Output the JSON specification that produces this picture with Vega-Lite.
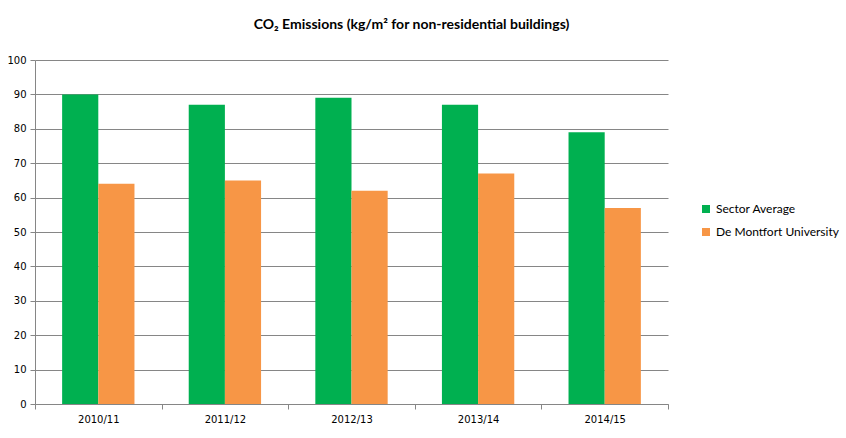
{
  "$schema": "https://vega.github.io/schema/vega-lite/v6.json",
  "width": 633,
  "height": 344,
  "autosize": {"type": "none"},
  "padding": {"left": 35, "top": 60, "right": 178, "bottom": 34},
  "background": "white",
  "title": {
    "text": "CO₂ Emissions (kg/m² for non-residential buildings)",
    "font": "Lato",
    "fontSize": 14,
    "fontWeight": "bold",
    "color": "#000000",
    "anchor": "middle",
    "frame": "group",
    "dx": 60,
    "offset": 23
  },
  "data": {
    "values": [
      {"year": "2010/11", "series": "Sector Average", "value": 90},
      {"year": "2010/11", "series": "De Montfort University", "value": 64},
      {"year": "2011/12", "series": "Sector Average", "value": 87},
      {"year": "2011/12", "series": "De Montfort University", "value": 65},
      {"year": "2012/13", "series": "Sector Average", "value": 89},
      {"year": "2012/13", "series": "De Montfort University", "value": 62},
      {"year": "2013/14", "series": "Sector Average", "value": 87},
      {"year": "2013/14", "series": "De Montfort University", "value": 67},
      {"year": "2014/15", "series": "Sector Average", "value": 79},
      {"year": "2014/15", "series": "De Montfort University", "value": 57}
    ]
  },
  "mark": {"type": "bar"},
  "encoding": {
    "x": {
      "field": "year",
      "type": "nominal",
      "title": null,
      "scale": {"paddingInner": 0, "paddingOuter": 0},
      "axis": {
        "labelAngle": 0,
        "tickBand": "extent",
        "domainColor": "#868686",
        "tickColor": "#868686",
        "tickSize": 5,
        "labelFont": "DejaVu Sans",
        "labelFontSize": 10,
        "labelColor": "#000000",
        "labelPadding": 5,
        "grid": false
      }
    },
    "xOffset": {
      "field": "series",
      "type": "nominal",
      "sort": ["Sector Average", "De Montfort University"],
      "scale": {"paddingInner": 0, "paddingOuter": 0.75}
    },
    "y": {
      "field": "value",
      "type": "quantitative",
      "title": null,
      "scale": {"domain": [0, 100], "nice": false},
      "axis": {
        "values": [0, 10, 20, 30, 40, 50, 60, 70, 80, 90, 100],
        "domainColor": "#868686",
        "tickColor": "#868686",
        "tickSize": 5,
        "gridColor": "#868686",
        "gridWidth": 1,
        "labelFont": "DejaVu Sans",
        "labelFontSize": 10,
        "labelColor": "#000000",
        "labelPadding": 4
      }
    },
    "color": {
      "field": "series",
      "type": "nominal",
      "sort": ["Sector Average", "De Montfort University"],
      "scale": {
        "domain": ["Sector Average", "De Montfort University"],
        "range": ["#00B050", "#F79646"]
      },
      "legend": {
        "title": null,
        "orient": "none",
        "legendX": 665,
        "legendY": 143,
        "symbolType": "square",
        "symbolSize": 64,
        "symbolStrokeWidth": 0,
        "labelFont": "Lato",
        "labelFontSize": 12,
        "labelColor": "#000000",
        "rowPadding": 11,
        "labelOffset": 4
      }
    }
  },
  "config": {
    "view": {"stroke": null},
    "axis": {"domainWidth": 1, "tickWidth": 1}
  }
}
